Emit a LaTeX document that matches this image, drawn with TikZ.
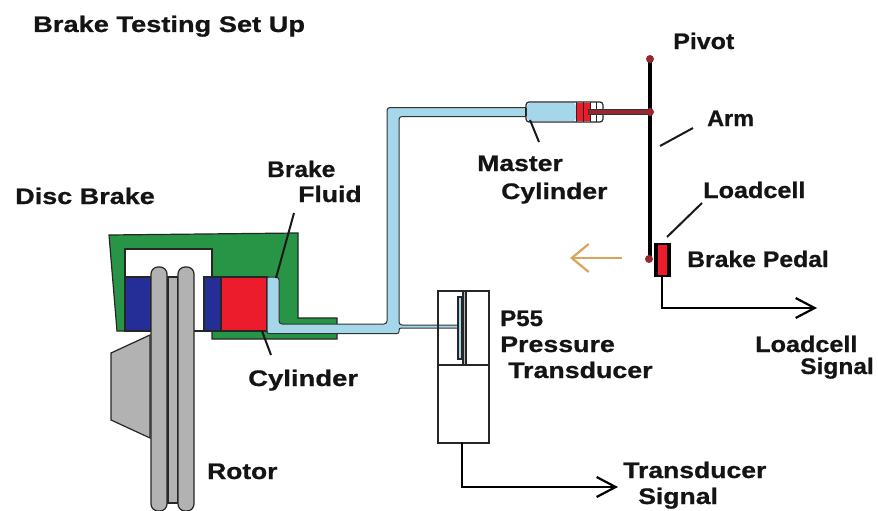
\documentclass[tikz,border=0pt]{standalone}
\usepackage{fontspec}
\setmainfont[BoldFeatures={FakeBold=0.7}]{Liberation Sans}
\usetikzlibrary{arrows.meta}
\definecolor{cgreen}{RGB}{40,148,70}
\definecolor{cblue}{RGB}{36,46,150}
\definecolor{cred}{RGB}{236,28,44}
\definecolor{cfluid}{RGB}{165,215,235}
\definecolor{cgrey}{RGB}{178,178,178}
\definecolor{cdot}{RGB}{150,40,50}
\definecolor{corange}{RGB}{218,165,90}
\tikzset{
 lbl/.style={font=\fontsize{22.5}{23}\selectfont\bfseries, anchor=base west, inner sep=0pt, text=black!92, xscale=#1, transform shape},
 part/.style={draw=black!85, line width=1.2pt},
 pipeline/.style={draw=black!80, line width=1pt},
 leader/.style={draw=black!90, line width=2pt},
 signal/.style={draw=black, line width=2.2pt, -{Straight Barb[length=19pt,width=20pt,line width=2.2pt]}},
 pivotdot/.style={circle, fill=cdot, inner sep=0pt, minimum size=8pt}
}
\begin{document}
\begin{tikzpicture}[x=1pt,y=-1pt]
\useasboundingbox (0,0) rectangle (878,511);
% caliper
\draw[part, fill=cgreen] (109,235) -- (298,233) -- (298,318) -- (337,318) -- (337,339) -- (212,339) -- (212,331) -- (117,331) -- cycle;
\draw[part, fill=white] (125,331) -- (125,249) -- (212,249) -- (212,277) -- (204,277) -- (204,331) -- cycle;
% pads
\draw[part, fill=cblue] (125,277) rectangle (151,331);
\draw[part, fill=cblue] (204,277) rectangle (221,331);
\draw[part, fill=cred] (221,277) rectangle (267,331);
% hub
\draw[part, fill=cgrey] (150,335) -- (111,353) -- (111,420) -- (150,438) -- cycle;
% rotor
\draw[part, fill=cgrey] (168,277) rectangle (178,503);
\draw[part, fill=cgrey, rounded corners=7pt] (151,267) rectangle (167,511);
\draw[part, fill=cgrey, rounded corners=7pt] (178,267) rectangle (194,511);
% fluid
\fill[cfluid, rounded corners=3pt] (267,277) -- (279,277) -- (279,324) -- (387,324) -- (387,107.5) -- (527,107.5) -- (527,116.5) -- (399,116.5) -- (399,325) -- (458,325) -- (458,328) -- (399,328) -- (399,333.5) -- (267,333.5) -- cycle;
\draw[pipeline, rounded corners=3pt] (267,277) -- (279,277) -- (279,324) -- (387,324) -- (387,107.5) -- (527,107.5);
\draw[pipeline, rounded corners=3pt] (527,116.5) -- (399,116.5) -- (399,325) -- (458,325);
\draw[pipeline, rounded corners=2pt] (458,328) -- (399,328) -- (399,333.5) -- (267,333.5) -- (267,277);
% transducer
\draw[part] (438,291) rectangle (489,443);
\draw[part, line width=1.8pt] (438,365) -- (489,365);
\draw[part, fill=cgrey] (463,291) rectangle (466,365);
\draw[part, fill=cfluid] (458,297) rectangle (462,359);
% master cylinder
\draw[part, fill=white, rounded corners=3pt] (526,102) rectangle (603,122);
\draw[draw=none, fill=cfluid, rounded corners=3pt] (527,103) rectangle (576,121);
\draw[part] (526,108) -- (526,116);
\fill[cred] (576,103) rectangle (590,121);
\draw[part, line width=.8pt] (576,102) -- (576,122) (583,102) -- (583,122) (590,102) -- (590,122) (596,102) -- (596,122);
\draw[draw=black!80, fill=cdot, line width=.8pt] (588,109) rectangle (650,114);
% arm
\coordinate (armtop) at (650,59);
\coordinate (armbot) at (650,262);
\draw[line width=4pt, black] (armtop) -- (armbot);
\node[pivotdot] (d1) at (650,59) {};
\node[pivotdot] (d2) at (650,112) {};
\node[pivotdot] (d3) at (649,259) {};
% loadcell
\fill[black] (654,243) rectangle (671,277);
\fill[cred] (658,245) rectangle (667,275);
% orange arrow
\coordinate (oa) at (622,258); \coordinate (ob) at (570,258);
\draw[corange, line width=2.2pt, -{Straight Barb[length=17pt,width=28pt,line width=2.2pt]}] (oa) -- (ob);
% signals
\coordinate (s1) at (662,277); \coordinate (s1b) at (662,308); \coordinate (s1c) at (817,308);
\draw[signal] (s1) -- (s1b) -- (s1c);
\coordinate (s2) at (462,443); \coordinate (s2b) at (462,487); \coordinate (s2c) at (618,487);
\draw[signal] (s2) -- (s2b) -- (s2c);
% leaders
\coordinate (l1a) at (276,278); \coordinate (l1b) at (294,213);
\coordinate (l2a) at (262,331); \coordinate (l2b) at (271,355);
\coordinate (l3a) at (530,120); \coordinate (l3b) at (539,142);
\coordinate (l4a) at (660,146); \coordinate (l4b) at (693,128);
\coordinate (l5a) at (667,237); \coordinate (l5b) at (702,203);
\draw[leader] (l1a) -- (l1b);
\draw[leader] (l2a) -- (l2b);
\draw[leader] (l3a) -- (l3b);
\draw[leader] (l4a) -- (l4b);
\draw[leader] (l5a) -- (l5b);
% labels
\node[lbl=1.21] (t0) at (33,32) {Brake Testing Set Up};
\node[lbl=1.2] (t1) at (15,204) {Disc Brake};
\node[lbl=1.09] (t2) at (267,177) {Brake};
\node[lbl=1.18] (t3) at (298,202) {Fluid};
\node[lbl=1.22] (t4) at (248,386) {Cylinder};
\node[lbl=1.17] (t5) at (207,479) {Rotor};
\node[lbl=1.18] (t6) at (477,171) {Master};
\node[lbl=1.18] (t7) at (501,199) {Cylinder};
\node[lbl=1.07] (t8) at (500,326) {P55};
\node[lbl=1.19] (t9) at (500,352) {Pressure};
\node[lbl=1.19] (t10) at (508,378) {Transducer};
\node[lbl=1.11] (t11) at (673,49) {Pivot};
\node[lbl=1.04] (t12) at (707,126) {Arm};
\node[lbl=1.12] (t13) at (703,198) {Loadcell};
\node[lbl=1.1] (t14) at (687,267) {Brake Pedal};
\node[lbl=1.12] (t15) at (755,352) {Loadcell};
\node[lbl=1.09] (t16) at (800,374) {Signal};
\node[lbl=1.18] (t17) at (623,478) {Transducer};
\node[lbl=1.18] (t18) at (638,504) {Signal};
\end{tikzpicture}
\end{document}
